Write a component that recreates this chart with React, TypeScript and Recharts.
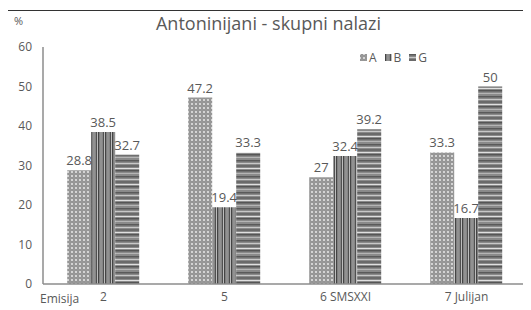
import React from 'react';
import { BarChart, Bar, XAxis, YAxis, LabelList } from 'recharts';

const categories = ['2', '5', '6 SMSXXI', '7 Julijan'];
const seriesA = [28.8, 47.2, 27, 33.3];
const seriesB = [38.5, 19.4, 32.4, 16.7];
const seriesG = [32.7, 33.3, 39.2, 50];
const yTicks = [0, 10, 20, 30, 40, 50, 60];

const data = categories.map((c, i) => ({ name: c, A: seriesA[i], B: seriesB[i], G: seriesG[i] }));

const textColor = '#595959';
const font = '"Open Sans", sans-serif';

function Patterns() {
  return (
    <svg width={0} height={0} style={{ position: 'absolute' }}>
      <defs>
        <pattern id="patA" width="4" height="4" patternUnits="userSpaceOnUse">
          <rect width="4" height="4" fill="#d4d4d4" />
          <circle cx="2" cy="2" r="1.3" fill="none" stroke="#555" strokeWidth="0.8" />
        </pattern>
        <pattern id="patB" width="7" height="4" patternUnits="userSpaceOnUse">
          <rect width="7" height="4" fill="#bdbdbd" />
          <rect x="0" width="1.5" height="4" fill="#444" />
          <rect x="2.5" width="1" height="4" fill="#666" />
          <rect x="4.5" width="1.5" height="4" fill="#505050" />
        </pattern>
        <pattern id="patG" width="4" height="16" patternUnits="userSpaceOnUse">
          <rect width="4" height="16" fill="#8a8a8a" />
          <rect y="0" width="4" height="1.5" fill="#5a5a5a" />
          <rect y="3" width="4" height="1" fill="#c8c8c8" />
          <rect y="5" width="4" height="2" fill="#6a6a6a" />
          <rect y="8" width="4" height="1" fill="#e0e0e0" />
          <rect y="10" width="4" height="1.5" fill="#555" />
          <rect y="13" width="4" height="1" fill="#b5b5b5" />
        </pattern>
      </defs>
    </svg>
  );
}

const legendItems = [
  { key: 'A', fill: 'url(#patA)' },
  { key: 'B', fill: 'url(#patB)' },
  { key: 'G', fill: 'url(#patG)' },
];

function LegendBox() {
  return (
    <div style={{ position: 'absolute', left: 360, top: 49, display: 'flex', gap: 8, fontFamily: font, fontSize: 12, color: textColor }}>
      {legendItems.map((it) => (
        <div key={it.key} style={{ display: 'flex', alignItems: 'center', gap: 2 }}>
          <svg width={7} height={7}>
            <rect width={7} height={7} fill={it.fill} />
          </svg>
          <span>{it.key}</span>
        </div>
      ))}
    </div>
  );
}

export default function App() {
  return (
    <div style={{ position: 'relative', margin: '-8px 0 0 -8px', width: 531, height: 310, overflow: 'hidden', background: '#fff' }}>
      <Patterns />
      <div style={{ position: 'absolute', left: 7, top: 10, width: 600, height: 400, boxSizing: 'border-box', borderLeft: '1px solid #333', borderTop: '1px solid #333', background: '#fff' }} />
      <div style={{ position: 'absolute', left: 0, top: 0 }}>
        <BarChart
          width={531}
          height={310}
          data={data}
          margin={{ top: 47, right: 4, left: 0, bottom: 0 }}
          barCategoryGap="20%"
          barGap={0}
        >
          <XAxis
            dataKey="name"
            height={26}
            tickLine={false}
            axisLine={{ stroke: '#8c8c8c', strokeWidth: 1.5 }}
            tick={{ fill: textColor, fontSize: 12, fontFamily: font }}
          />
          <YAxis
            width={43}
            domain={[0, 60]}
            ticks={yTicks}
            tickLine={false}
            tickMargin={5}
            axisLine={{ stroke: '#8c8c8c', strokeWidth: 1.5 }}
            tick={{ fill: textColor, fontSize: 12, fontFamily: font }}
          />
          <Bar dataKey="A" fill="url(#patA)" isAnimationActive={false}>
            <LabelList dataKey="A" position="top" fill={textColor} fontSize={13} fontFamily={font} />
          </Bar>
          <Bar dataKey="B" fill="url(#patB)" isAnimationActive={false}>
            <LabelList dataKey="B" position="top" fill={textColor} fontSize={13} fontFamily={font} />
          </Bar>
          <Bar dataKey="G" fill="url(#patG)" isAnimationActive={false}>
            <LabelList dataKey="G" position="top" fill={textColor} fontSize={13} fontFamily={font} />
          </Bar>
        </BarChart>
      </div>
      <div style={{ position: 'absolute', left: 0, width: 531, top: 11, textAlign: 'center', fontFamily: font, fontSize: 18, color: textColor, paddingLeft: 6, boxSizing: 'border-box' }}>
        Antoninijani - skupni nalazi
      </div>
      <div style={{ position: 'absolute', left: 14, top: 13, fontFamily: font, fontSize: 11, color: textColor }}>%</div>
      <div style={{ position: 'absolute', left: 40, top: 290, fontFamily: font, fontSize: 12, color: textColor }}>Emisija</div>
      <LegendBox />
    </div>
  );
}
